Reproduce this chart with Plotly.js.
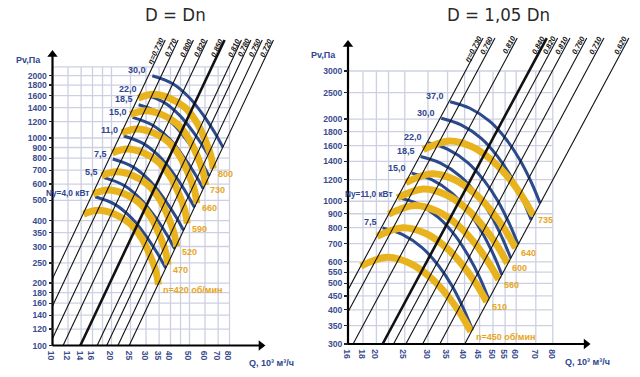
<!DOCTYPE html>
<html><head><meta charset="utf-8">
<script src="https://cdn.plot.ly/plotly-3.0.1.min.js"></script>
<style>body{margin:0;background:#fff}#c{width:640px;height:377px}</style>
</head><body><div id="c"></div>
<script>
// ---------- LEFT CHART: D = Dn ----------
const L_xTicks = [10,12,14,16,20,25,30,35,40,50,60,70,80];
const L_yTicks = [100,120,140,160,180,200,250,300,350,400,500,600,700,800,900,1000,1200,1400,1600,1800,2000];
const L_gridQ = [10,12,14,16,18,20,25,30,35,40,45,50,60,70,80];
const L_gridP = [120,140,160,180,200,250,300,350,400,500,600,700,800,900,1000,1200,1400,1600,1800,2000,2200];
const L_speedLabel = ['n=420 об/мин','470','520','590','660','730','800'];
const L_speedQ = [
  [14.4,17.1,20.8,24.8,28.5,31.4,33.7,34.7],
  [16.1,19.1,23.3,27.8,31.9,35.1,37.7,38.8],
  [17.8,21.2,25.8,30.7,35.3,38.9,41.7,43.0],
  [20.2,24.0,29.2,34.8,40.0,44.1,47.3,48.7],
  [22.6,26.9,32.7,39.0,44.8,49.3,53.0,54.5],
  [25.0,29.7,36.2,43.1,49.5,54.6,58.6,60.3],
  [27.4,32.6,39.6,47.2,54.3,59.8,64.2,66.1]];
const L_speedP = [
  [429,448,429,388,329,273,227,196],
  [537,561,537,486,412,342,284,245],
  [658,687,658,595,504,418,348,300],
  [847,884,847,766,649,539,448,387],
  [1059,1106,1059,958,812,674,561,484],
  [1296,1353,1296,1172,994,825,686,592],
  [1556,1625,1556,1408,1194,990,824,711]];
const L_powerLabel = ['Ny=4,0 кВт','5,5','7,5','11,0','15,0','18,5','22,0','30,0'];
const L_powerQ = [
  [16.5,20.8,25.4,30.2,34.7,37.8],
  [18.3,23.1,28.2,33.6,38.6,42.0],
  [20.3,25.6,31.3,37.2,42.8,46.6],
  [23.1,29.1,35.6,42.3,48.6,53.0],
  [25.6,32.3,39.5,46.9,53.9,58.7],
  [27.5,34.7,42.3,50.3,57.8,63.0],
  [29.1,36.7,44.8,53.3,61.3,66.7],
  [32.3,40.7,49.7,59.1,67.9,74.0]];
const L_powerP = [
  [521,479,410,334,273,236],
  [644,592,507,413,338,292],
  [792,728,623,508,415,359],
  [1023,940,805,656,536,463],
  [1258,1156,990,806,659,570],
  [1447,1330,1139,928,758,655],
  [1623,1493,1278,1041,851,735],
  [1996,1835,1571,1280,1046,904]];
const L_effLabel = ['η=0.730','0.770','0.800','0.820','0.850','0.810','0.780','0.750','0.720'];
const L_effQ0 = [10,10,10,11.32,13.87,16.90,18.90,21.57,24.62];
const L_effP0 = [210,155,108,100,100,100,100,100,100];
const L_effQ1 = [37.6,43.75,52.4,61.7,75.5,92.1,102.9,117.5,134.1];
const L_effP1 = [2967,2967,2967,2967,2967,2967,2967,2967,2967];
const L_boldIdx = 4;

// ---------- RIGHT CHART: D = 1,05 Dn ----------
const R_xTicks = [16,18,20,25,30,35,40,45,50,55,60,70,80];
const R_yTicks = [300,350,400,450,500,550,600,700,800,900,1000,1200,1400,1600,1800,2000,2500,3000];
const R_gridQ = [16,18,20,22,25,30,35,40,45,50,55,60,70,80];
const R_gridP = [350,400,450,500,550,600,700,800,900,1000,1200,1400,1600,1800,2000,2500,3000];
const R_speedLabel = ['n=450 об/мин','510','560','600','640','735'];
const R_speedQ = [
  [17.7,21.7,26.0,30.5,34.8,38.6,42.0],
  [20.1,24.6,29.5,34.6,39.4,43.7,47.6],
  [22.0,27.0,32.4,38.0,43.3,48.0,52.3],
  [23.6,28.9,34.7,40.7,46.4,51.5,56.0],
  [25.2,30.9,37.0,43.4,49.5,54.9,59.7],
  [28.9,35.4,42.5,49.8,56.8,63.0,68.6]];
const R_speedP = [
  [579,623,593,527,454,389,333],
  [744,800,762,677,583,500,428],
  [897,965,918,816,703,602,516],
  [1029,1108,1054,937,807,692,592],
  [1171,1260,1199,1066,918,787,674],
  [1545,1662,1582,1406,1211,1038,888]];
const R_powerLabel = ['7,5','Ny=11,0 кВт','15,0','18,5','22,0','30,0','37,0'];
const R_powerQ = [
  [21.0,24.5,28.7,32.7,36.3,39.8,42.5],
  [23.8,27.8,32.6,37.2,41.2,45.3,48.3],
  [26.4,30.9,36.2,41.2,45.7,50.2,53.6],
  [28.3,33.1,38.8,44.2,49.1,53.8,57.5],
  [30.0,35.1,41.1,46.8,52.0,57.0,60.9],
  [33.3,38.9,45.6,51.9,57.6,63.2,67.5],
  [35.7,41.7,48.9,55.7,61.8,67.8,72.4]];
const R_powerP = [
  [799,756,675,578,488,401,339],
  [1032,976,871,747,631,518,438],
  [1268,1200,1071,918,775,637,538],
  [1459,1380,1232,1056,892,733,619],
  [1638,1549,1383,1185,1001,823,695],
  [2014,1905,1701,1457,1231,1012,855],
  [2316,2191,1956,1676,1416,1164,983]];
const R_effLabel = ['η=0.730','0.760','0.810','0.840','0.820','0.810','0.760','0.710','0.620'];
const R_effQ0 = [16,16,16.65,21.0,22.88,25.21,28.75,32.91,40.05];
const R_effP0 = [473.6,393,300,300,300,300,300,300,300];
const R_effQ1 = [46.27,50.8,60.5,76.3,83.1,91.6,104.5,119.6,145.5];
const R_effP1 = [3961,3961,3961,3961,3961,3961,3961,3961,3961];
const R_boldIdx = 3;

// ---------- styling ----------
const W = 640, H = 377;
const YEL = '#E8B31C', BLUE = '#2A4A8C', TXTB = '#2F4690', TXTY = '#E6A61E', GRID = '#CDD0E2';
const SANS = '"Liberation Sans",Arial,sans-serif';
const COND = '"DejaVu Sans Condensed","Liberation Sans",sans-serif';
const lg = Math.log10;

// geometry (pixels)
const GL = {x0px:52.5, y0px:345.5, pxDecX:196, pxDecY:207.5, qMin:10, pMin:100,
            domX:[44,276], domY:[20,352], qGridMax:80, pGridMax:2200, qArrow:115.7, pArrow:2526};
const GR = {x0px:348, y0px:344, pxDecX:293, pxDecY:273, qMin:16, pMin:300,
            domX:[340,636], domY:[20,350], qGridMax:80, pGridMax:3000, qArrow:103.9, pArrow:3753};

function axes(g, xa, ya, xTicks, yTicks){
  const xr = [lg(g.qMin) - (g.x0px-g.domX[0])/g.pxDecX, lg(g.qMin) + (g.domX[1]-g.x0px)/g.pxDecX];
  const yr = [lg(g.pMin) - (g.domY[1]-g.y0px)/g.pxDecY, lg(g.pMin) + (g.y0px-g.domY[0])/g.pxDecY];
  const tf = {family:SANS, size:8.6, color:'#3A4C8E', weight:'bold'};
  return {
    [xa]: {type:'log', range:xr, domain:[g.domX[0]/W, g.domX[1]/W], anchor:'free', position:1-g.y0px/H,
      tickvals:xTicks, ticktext:xTicks.map(String), ticks:'', ticklen:0,
      showgrid:false, zeroline:false, showline:false, tickfont:tf, fixedrange:true},
    [ya]: {type:'log', range:yr, domain:[1-g.domY[1]/H, 1-g.domY[0]/H], anchor:'free', position:g.x0px/W,
      tickvals:yTicks, ticktext:yTicks.map(String), ticks:'outside', ticklen:4, tickcolor:'#222', tickwidth:1.2,
      showgrid:false, zeroline:false, showline:false, tickfont:tf, fixedrange:true}
  };
}

const traces = [];
const anns = [];
function build(g, xr, yr, gridQ, gridP, effQ0, effP0, effQ1, effP1, boldIdx, effLabel,
               powQ, powP, powLab, spdQ, spdP, spdLab){
  // grid
  const gx=[], gy=[];
  gridQ.forEach(q=>{gx.push(q,q,null); gy.push(g.pMin,g.pGridMax,null);});
  gridP.forEach(p=>{gx.push(g.qMin,g.qGridMax,null); gy.push(p,p,null);});
  traces.push({x:gx,y:gy,xaxis:xr,yaxis:yr,mode:'lines',line:{color:GRID,width:1.3},hoverinfo:'skip'});
  // power curves (blue)
  powQ.forEach((q,i)=>{
    traces.push({x:q,y:powP[i],xaxis:xr,yaxis:yr,mode:'lines',line:{color:BLUE,width:3,shape:'spline'},hoverinfo:'skip'});
    const isNy = powLab[i].indexOf('Ny')===0;
    anns.push({xref:xr,yref:yr,x:lg(q[0]),y:lg(powP[i][0]),text:powLab[i],showarrow:false,
      xanchor:'right',yanchor:'middle',xshift:-4,yshift:isNy?4:5.5,
      font:{family:SANS,size:isNy?8.3:9,color:TXTB,weight:'bold'}});
  });
  // speed curves (yellow)
  spdQ.forEach((q,i)=>{
    traces.push({x:q,y:spdP[i],xaxis:xr,yaxis:yr,mode:'lines',line:{color:YEL,width:7,shape:'spline'},hoverinfo:'skip'});
    const n=q.length-1;
    anns.push({xref:xr,yref:yr,x:lg(q[n]),y:lg(spdP[i][n]),text:spdLab[i],showarrow:false,
      xanchor:'left',yanchor:'middle',xshift:3,yshift:-5,font:{family:SANS,size:9,color:TXTY,weight:'bold'}});
  });
  // efficiency / system lines
  const ang = Math.atan(2*g.pxDecY/g.pxDecX);
  effQ0.forEach((q0,i)=>{
    traces.push({x:[q0,effQ1[i]],y:[effP0[i],effP1[i]],xaxis:xr,yaxis:yr,mode:'lines',
      line:{color:'#111',width:i===boldIdx?2.6:1.1},hoverinfo:'skip'});
    const L = effLabel[i].length*3.9, d=3.5;
    anns.push({xref:xr,yref:yr,x:lg(effQ1[i]),y:lg(effP1[i]),text:effLabel[i],showarrow:false,
      textangle:-ang*180/Math.PI, xanchor:'center',yanchor:'middle',
      xshift:-(L/2)*Math.cos(ang)-d*Math.sin(ang), yshift:-(L/2)*Math.sin(ang)+d*Math.cos(ang),
      font:{family:SANS,size:7.5,color:'#111',weight:'bold',style:'italic'}});
  });
  // axes with arrows
  traces.push({x:[g.qMin,g.qMin,null,g.qMin,g.qArrow],y:[g.pArrow,g.pMin,null,g.pMin,g.pMin],xaxis:xr,yaxis:yr,
    mode:'lines',line:{color:'#000',width:2.2},hoverinfo:'skip'});
  traces.push({x:[g.qMin],y:[g.pArrow],xaxis:xr,yaxis:yr,mode:'markers',
    marker:{symbol:'triangle-up',size:9,color:'#000'},hoverinfo:'skip',cliponaxis:false});
  traces.push({x:[g.qArrow],y:[g.pMin],xaxis:xr,yaxis:yr,mode:'markers',
    marker:{symbol:'triangle-right',size:9,color:'#000'},hoverinfo:'skip',cliponaxis:false});
}

build(GL,'x','y',L_gridQ,L_gridP,L_effQ0,L_effP0,L_effQ1,L_effP1,L_boldIdx,L_effLabel,
      L_powerQ,L_powerP,L_powerLabel,L_speedQ,L_speedP,L_speedLabel);
build(GR,'x2','y2',R_gridQ,R_gridP,R_effQ0,R_effP0,R_effQ1,R_effP1,R_boldIdx,R_effLabel,
      R_powerQ,R_powerP,R_powerLabel,R_speedQ,R_speedP,R_speedLabel);

// titles and axis titles
const titleFont = {family:COND,size:18.5,color:'#2a2a2a'};
const axFont = {family:SANS,size:9,color:TXTB,weight:'bold'};
anns.push({xref:'paper',yref:'paper',x:175/W,y:1-15/H,text:'D = Dn',showarrow:false,xanchor:'center',yanchor:'middle',font:titleFont});
anns.push({xref:'paper',yref:'paper',x:498/W,y:1-15/H,text:'D = 1,05 Dn',showarrow:false,xanchor:'center',yanchor:'middle',font:titleFont});
anns.push({xref:'paper',yref:'paper',x:14/W,y:1-60/H,text:'Pv,Па',showarrow:false,xanchor:'left',yanchor:'middle',font:axFont});
anns.push({xref:'paper',yref:'paper',x:309/W,y:1-55/H,text:'Pv,Па',showarrow:false,xanchor:'left',yanchor:'middle',font:axFont});
anns.push({xref:'paper',yref:'paper',x:247/W,y:1-363/H,text:'Q, 10³ м³/ч',showarrow:false,xanchor:'left',yanchor:'middle',font:axFont});
anns.push({xref:'paper',yref:'paper',x:563/W,y:1-362/H,text:'Q, 10³ м³/ч',showarrow:false,xanchor:'left',yanchor:'middle',font:axFont});

const layout = Object.assign({width:W,height:H,margin:{l:0,r:0,t:0,b:0},showlegend:false,
  paper_bgcolor:'#fff',plot_bgcolor:'rgba(0,0,0,0)',annotations:anns},
  axes(GL,'xaxis','yaxis',L_xTicks,L_yTicks), axes(GR,'xaxis2','yaxis2',R_xTicks,R_yTicks));
Plotly.newPlot('c',traces,layout,{staticPlot:true,displayModeBar:false});
</script></body></html>
